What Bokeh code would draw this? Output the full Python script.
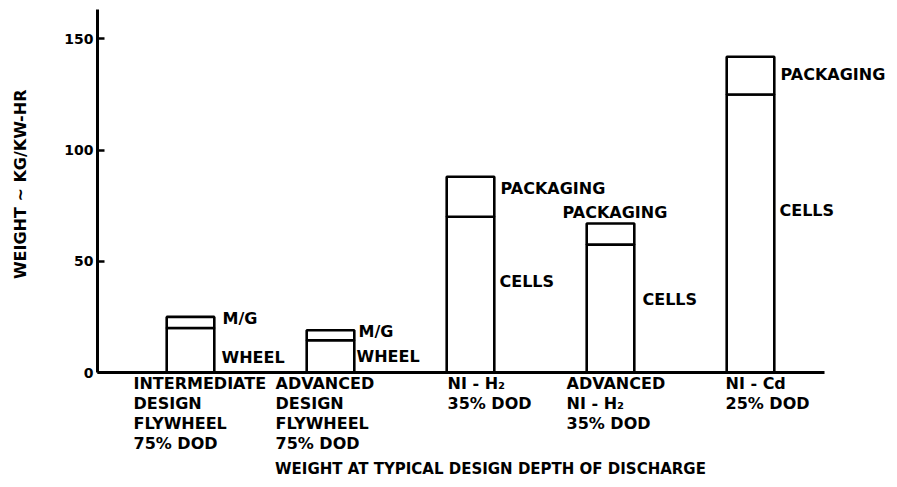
import math
from bokeh.plotting import figure
from bokeh.models import Label, Range1d, FixedTicker, LinearAxis
from bokeh.embed import file_html
from bokeh.resources import INLINE

# ---- data ----
category_lines = [
    ["INTERMEDIATE", "DESIGN", "FLYWHEEL", "75% DOD"],
    ["ADVANCED", "DESIGN", "FLYWHEEL", "75% DOD"],
    ["NI - H\u2082", "35% DOD"],
    ["ADVANCED", "NI - H\u2082", "35% DOD"],
    ["NI - Cd", "25% DOD"],
]
lower_values = [20, 14.5, 70, 57.5, 125]     # WHEEL / CELLS
upper_values = [5, 4.5, 18, 9.5, 17]         # M/G / PACKAGING
lower_names = ["WHEEL", "WHEEL", "CELLS", "CELLS", "CELLS"]
upper_names = ["M/G", "M/G", "PACKAGING", "PACKAGING", "PACKAGING"]
y_ticks = [0, 50, 100, 150]
y_title = "WEIGHT ~ KG/KW-HR"
x_title = "WEIGHT AT TYPICAL DESIGN DEPTH OF DISCHARGE"

# ---- style / layout (screen-pixel offsets) ----
FONT = "DejaVu Sans"
TXT_SHIFT = 6
upper_dx = [32, 28, 30, -48, 30]
upper_dy = [-8, -7, -18, 5, -24]
lower_dx = [31, 26, 29, 32, 29]
lower_dy = [-35, -22, -71, -61, -122]
cat_dx = [-57, -55, -23, -44, -25]
cat_line_dy = [-18, -38, -58, -78]

# frame covers the whole canvas; axes are pinned inside it
W, H = 895, 485
X0_PX, STEP_PX = 190.0, 140.0     # first bar centre, bar spacing
Y0_PX, PX_PER_UNIT = 372.0, 2.224  # zero line, vertical scale
AX_LEFT_PX, AX_RIGHT_PX, AX_TOP_PX = 97.0, 824.0, 9.0

def xd(px):
    return (px - X0_PX) / STEP_PX

def yd(py):
    return (Y0_PX - py) / PX_PER_UNIT

xs = list(range(len(lower_values)))
totals = [a + b for a, b in zip(lower_values, upper_values)]

p = figure(width=W, height=H, output_backend="svg", toolbar_location=None,
           x_range=Range1d(xd(0), xd(W)), y_range=Range1d(yd(H), yd(0)),
           x_axis_location=None, y_axis_location=None,
           min_border=0, min_border_left=0, min_border_right=0,
           min_border_top=0, min_border_bottom=0)
p.outline_line_color = None
p.grid.visible = False
p.background_fill_color = "white"
p.border_fill_color = "white"

BW = 0.34
p.vbar(x=xs, top=lower_values, bottom=0, width=BW, fill_color="white",
       line_color="black", line_width=2.6)
p.vbar(x=xs, top=totals, bottom=lower_values, width=BW, fill_color="white",
       line_color="black", line_width=2.6)

# y axis
ya = LinearAxis(fixed_location=xd(AX_LEFT_PX), bounds=(0, yd(AX_TOP_PX)))
ya.ticker = FixedTicker(ticks=y_ticks)
ya.axis_line_width = 3
ya.major_tick_in = 7
ya.major_tick_out = 0
ya.major_tick_line_width = 2.5
ya.minor_tick_line_color = None
ya.major_label_standoff = 4
ya.major_label_text_font = FONT
ya.major_label_text_font_style = "bold"
ya.major_label_text_font_size = "14px"
ya.major_label_text_color = "black"
p.add_layout(ya, "left")

# x axis: line only
xa = LinearAxis(fixed_location=0, bounds=(xd(AX_LEFT_PX), xd(AX_RIGHT_PX)))
xa.ticker = FixedTicker(ticks=[])
xa.axis_line_width = 3
xa.major_tick_line_color = None
xa.minor_tick_line_color = None
xa.major_label_text_color = None
p.add_layout(xa, "below")

def lab(x, y, text, dx, dy, align="left", size="16px", angle=0.0,
        baseline="alphabetic"):
    p.add_layout(Label(x=x, y=y, text=text, x_offset=dx, y_offset=dy,
                       angle=angle,
                       text_font=FONT, text_font_style="bold",
                       text_font_size=size, text_color="black",
                       text_align=align, text_baseline=baseline))

for i in xs:
    lab(i, totals[i], upper_names[i], upper_dx[i], upper_dy[i] + TXT_SHIFT)
    lab(i, lower_values[i], lower_names[i], lower_dx[i], lower_dy[i] + TXT_SHIFT)
    for j, line in enumerate(category_lines[i]):
        lab(i, 0, line, cat_dx[i], cat_line_dy[j] + TXT_SHIFT + 1)

lab(2, 0, x_title, 20, -103 + TXT_SHIFT + 1, align="center", size="15px")
# y-axis title, rotated, centred on the axis span
lab(xd(AX_LEFT_PX), yd(AX_TOP_PX) / 2 + 3, y_title, -77, 0, align="center",
    size="16px", angle=math.pi / 2, baseline="middle")

open("out.html", "w").write(file_html(p, INLINE))
